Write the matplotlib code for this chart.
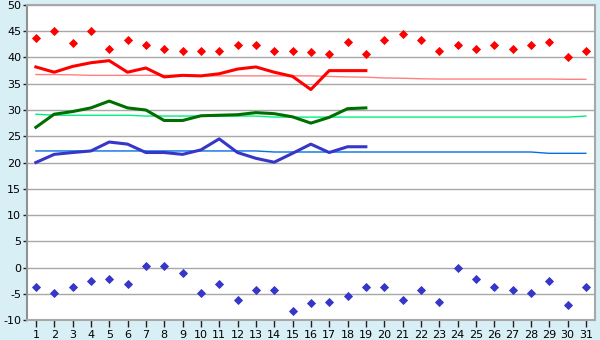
import matplotlib
matplotlib.use("Agg")
import matplotlib.pyplot as plt

days = list(range(1, 32))

record_max = [43.8, 45.0, 42.8, 45.0, 41.7, 43.3, 42.3, 41.7, 41.2, 41.2,
              41.2, 42.3, 42.3, 41.2, 41.2, 41.0, 40.6, 42.9, 40.6, 43.3,
              44.4, 43.3, 41.2, 42.3, 41.7, 42.3, 41.7, 42.3, 42.9, 40.0, 41.2]
record_min = [-3.8, -4.9, -3.8, -2.6, -2.1, -3.2, 0.2, 0.2, -1.1, -4.9,
              -3.2, -6.1, -4.3, -4.3, -8.3, -6.8, -6.6, -5.5, -3.8, -3.8,
              -6.1, -4.3, -6.6, 0.0, -2.1, -3.8, -4.3, -4.9, -2.6, -7.2, -3.8]

obs_days = list(range(1, 20))
tmax = [38.2, 37.2, 38.3, 39.0, 39.4, 37.2, 38.0, 36.3, 36.6, 36.5,
        36.9, 37.8, 38.2, 37.2, 36.4, 33.9, 37.5, 37.5, 37.5]
tmean = [26.7, 29.2, 29.7, 30.4, 31.7, 30.4, 30.0, 28.0, 28.0, 28.9,
         29.0, 29.1, 29.5, 29.3, 28.7, 27.5, 28.6, 30.25, 30.4]
tmin = [20.0, 21.55, 21.9, 22.2, 23.9, 23.5, 21.9, 21.9, 21.55, 22.4,
        24.5, 21.9, 20.8, 20.05, 21.75, 23.5, 21.9, 23.0, 23.0]

norm_max = [36.75, 36.75, 36.7, 36.6, 36.6, 36.6, 36.6, 36.6, 36.6, 36.5,
            36.5, 36.5, 36.5, 36.5, 36.5, 36.5, 36.4, 36.3, 36.25, 36.1,
            36.05, 35.95, 35.9, 35.9, 35.9, 35.9, 35.9, 35.9, 35.9, 35.85, 35.85]
norm_mean = [29.2, 29.0, 29.0, 29.0, 29.0, 29.0, 28.85, 28.85, 28.85, 28.85,
             28.85, 28.85, 28.85, 28.65, 28.65, 28.65, 28.65, 28.65, 28.65, 28.65,
             28.65, 28.65, 28.65, 28.65, 28.65, 28.65, 28.65, 28.65, 28.65, 28.65, 28.85]
norm_min = [22.2, 22.2, 22.2, 22.2, 22.2, 22.2, 22.2, 22.2, 22.2, 22.2,
            22.2, 22.2, 22.2, 22.0, 22.0, 22.0, 22.0, 22.0, 22.0, 22.0,
            22.0, 22.0, 22.0, 22.0, 22.0, 22.0, 22.0, 22.0, 21.75, 21.75, 21.75]

y_ticks = list(range(-10, 51, 5))

bg = "#D9EFF6"
grid_c = "#A8A8A8"

fig = plt.figure(figsize=(6.0, 3.4), dpi=100, facecolor=bg)
ax = fig.add_axes([0.0445, 0.0588, 0.9472, 0.9265])
ax.set_facecolor("white")

for yv in y_ticks:
    ax.axhline(yv, color=grid_c, lw=1.0, zorder=1)

ax.plot(days, norm_max, color="#FF8080", lw=1.0, zorder=2)
ax.plot(days, norm_mean, color="#00F080", lw=1.0, zorder=2)
ax.plot(days, norm_min, color="#0070E0", lw=1.0, zorder=2)

ax.plot(obs_days, tmax, color="#FF0000", lw=2.2, zorder=3)
ax.plot(obs_days, tmean, color="#006F00", lw=2.2, zorder=3)
ax.plot(obs_days, tmin, color="#3636C8", lw=2.2, zorder=3)

ax.plot(days, record_max, linestyle="none", marker="D", ms=3.8,
        color="#FF0000", mec="#FF0000", mew=0.6, zorder=4)
ax.plot(days, record_min, linestyle="none", marker="D", ms=3.8,
        color="#3636C8", mec="#3636C8", mew=0.6, zorder=4)

ax.set_xlim(0.5, 31.5)
ax.set_ylim(-10, 50)
ax.set_xticks(days)
ax.set_xticklabels([str(d) for d in days])
ax.set_yticks(y_ticks)
ax.set_yticklabels([str(v) for v in y_ticks])
ax.tick_params(axis="x", direction="out", length=5, width=1, color="#202020",
               labelsize=8, pad=2)
ax.tick_params(axis="y", direction="out", length=3, width=1, color="#202020",
               labelsize=8, pad=1)
for s in ax.spines.values():
    s.set_color(grid_c)
    s.set_linewidth(1.5)
ax.spines["left"].set_color("#909090")

fig.savefig("out.png", dpi=100, facecolor=bg)
